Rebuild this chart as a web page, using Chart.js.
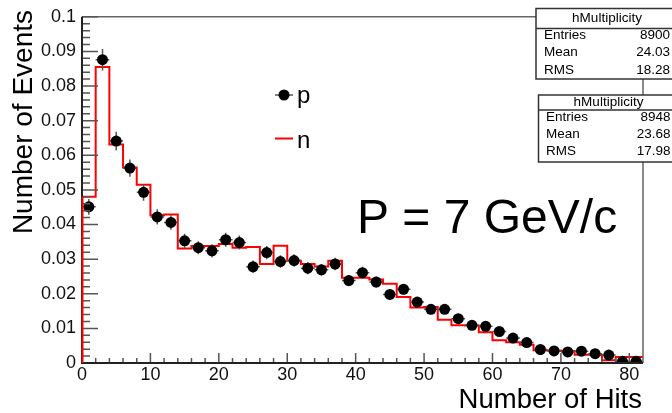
<!DOCTYPE html>
<html><head><meta charset="utf-8">
<script src="https://cdn.jsdelivr.net/npm/chart.js@4/dist/chart.umd.min.js"></script>
<style>html,body{margin:0;padding:0;background:#fff;overflow:hidden}canvas{display:block}</style>
</head><body>
<canvas id="c" width="672" height="413"></canvas>
<script>
// ---- data ----
const binCenters = [1,3,5,7,9,11,13,15,17,19,21,23,25,27,29,31,33,35,37,39,41,43,45,47,49,51,53,55,57,59,61,63,65,67,69,71,73,75,77,79,81];
const pValues = [0.0451,0.0876,0.0641,0.0563,0.0493,0.0422,0.0406,0.0353,0.0333,0.0324,
                 0.0356,0.0348,0.0278,0.0319,0.0293,0.0296,0.0274,0.0269,0.0286,0.0238,
                 0.0261,0.0234,0.0198,0.0213,0.0176,0.0155,0.0155,0.0128,0.0109,0.0106,
                 0.0091,0.0072,0.0059,0.0039,0.0035,0.0032,0.0034,0.0027,0.0023,0.0005,0.0005];
const pErrors = [0.0023,0.0031,0.0027,0.0025,0.0024,0.0022,0.0021,0.0020,0.0019,0.0019,
                 0.0020,0.0020,0.0018,0.0019,0.0018,0.0018,0.0018,0.0017,0.0018,0.0016,
                 0.0017,0.0016,0.0015,0.0015,0.0014,0.0013,0.0013,0.0012,0.0011,0.0011,
                 0.0010,0.0009,0.0008,0.0007,0.0006,0.0006,0.0006,0.0006,0.0005,0.0002,0.0002];
const nValues = [0.0480,0.0855,0.0631,0.0565,0.0515,0.0427,0.0429,0.0331,0.0338,0.0338,
                 0.0344,0.0333,0.0335,0.0286,0.0339,0.0295,0.0286,0.0279,0.0295,0.0246,
                 0.0246,0.0241,0.0229,0.0191,0.0160,0.0162,0.0125,0.0109,0.0108,0.0089,
                 0.0066,0.0060,0.0053,0.0037,0.0036,0.0035,0.0024,0.0024,0.0008,0.0017,0.0017];
const binHalfWidth = 1;
const statLabels = ['Entries','Mean','RMS'];
const statsP = ['8900','24.03','18.28'];
const statsN = ['8948','23.68','17.98'];
const statTitle = 'hMultiplicity';
const legendLabels = ['p','n'];
const xTitle = 'Number of Hits';
const yTitle = 'Number of Events';
const annotation = 'P = 7 GeV/c';

const FONT = '"Liberation Sans", Arial, Helvetica, sans-serif';

const pointData = binCenters.map((c,i)=>({x:c, y:pValues[i]}));
const histData = [{x:binCenters[0]-binHalfWidth, y:0}];
binCenters.forEach((c,i)=>histData.push({x:c-binHalfWidth, y:nValues[i]}));
histData.push({x:binCenters[binCenters.length-1]+binHalfWidth, y:nValues[nValues.length-1]});

function fmtY(v){ return String(parseFloat(v.toFixed(3))); }

const decor = {
  id:'decor',
  beforeDatasetDraw(chart, args){
    if(args.index !== 0) return;
    const ctx = chart.ctx, xs = chart.scales.x, ys = chart.scales.y;
    ctx.save();
    ctx.strokeStyle = '#555'; ctx.lineWidth = 1.5;
    binCenters.forEach((c,i)=>{
      const x = xs.getPixelForValue(c), y = ys.getPixelForValue(pValues[i]);
      const y1 = ys.getPixelForValue(pValues[i]+pErrors[i]), y2 = ys.getPixelForValue(Math.max(0,pValues[i]-pErrors[i]));
      const xl = xs.getPixelForValue(c-binHalfWidth), xr = xs.getPixelForValue(c+binHalfWidth);
      ctx.beginPath();
      ctx.moveTo(x,y1); ctx.lineTo(x,y2);
      ctx.moveTo(xl,y); ctx.lineTo(xr,y);
      ctx.stroke();
    });
    ctx.restore();
  },
  afterDraw(chart){
    const ctx = chart.ctx, xs = chart.scales.x, ys = chart.scales.y, a = chart.chartArea;
    ctx.save();
    // frame
    ctx.strokeStyle = '#666'; ctx.lineWidth = 1.5;
    ctx.beginPath(); ctx.moveTo(a.left, a.top); ctx.lineTo(a.right, a.top); ctx.lineTo(a.right, a.bottom); ctx.stroke();
    // ticks
    ctx.strokeStyle = '#555'; ctx.lineWidth = 1.5;
    ctx.beginPath();
    for(let i=0;i<=50;i++){
      const v = i*0.002, y = ys.getPixelForValue(v);
      const L = (i%5===0)?16:8;
      ctx.moveTo(a.left, y); ctx.lineTo(a.left+L, y);
    }
    for(let i=0;i<=40;i++){
      const v = i*2, x = xs.getPixelForValue(v);
      const L = (i%5===0)?10:5;
      ctx.moveTo(x, a.bottom); ctx.lineTo(x, a.bottom-L);
    }
    ctx.stroke();
    // axes
    ctx.strokeStyle = '#222'; ctx.lineWidth = 2;
    ctx.beginPath(); ctx.moveTo(a.left, a.top); ctx.lineTo(a.left, a.bottom); ctx.lineTo(a.right, a.bottom); ctx.stroke();
    // histogram left edge on top of axis
    ctx.strokeStyle = '#ff0000'; ctx.lineWidth = 2;
    ctx.beginPath(); ctx.moveTo(a.left+0.5, ys.getPixelForValue(0)); ctx.lineTo(a.left+0.5, ys.getPixelForValue(nValues[0])); ctx.stroke();

    // legend
    ctx.strokeStyle = '#555'; ctx.lineWidth = 1.5;
    ctx.beginPath(); ctx.moveTo(275, 95); ctx.lineTo(293, 95); ctx.stroke();
    ctx.fillStyle = '#000';
    ctx.beginPath(); ctx.arc(284, 95, 5.5, 0, Math.PI*2); ctx.fill();
    ctx.strokeStyle = '#ff0000'; ctx.lineWidth = 2;
    ctx.beginPath(); ctx.moveTo(275, 138.5); ctx.lineTo(293, 138.5); ctx.stroke();
    ctx.font = '24px ' + FONT; ctx.textAlign = 'left'; ctx.textBaseline = 'alphabetic';
    ctx.fillText(legendLabels[0], 297, 103);
    ctx.fillText(legendLabels[1], 297, 148);

    // annotation
    ctx.font = '48px ' + FONT;
    ctx.fillText(annotation, 357, 233);

    // axis titles
    ctx.font = '27.5px ' + FONT; ctx.textAlign = 'right';
    ctx.fillText(xTitle, 642, 408);
    ctx.save();
    ctx.translate(32, 10); ctx.rotate(-Math.PI/2);
    ctx.font = '28px ' + FONT; ctx.textAlign = 'right';
    ctx.fillText(yTitle, 0, 0);
    ctx.restore();

    // stats boxes
    function statBox(x, y, w, h, th, titleY, rowYs, labX, valX, vals){
      ctx.fillStyle = '#fff'; ctx.fillRect(x, y, w, h);
      ctx.strokeStyle = '#333'; ctx.lineWidth = 1.5;
      ctx.strokeRect(x, y, w, h);
      ctx.beginPath(); ctx.moveTo(x, y+th); ctx.lineTo(x+w, y+th); ctx.stroke();
      ctx.fillStyle = '#000'; ctx.font = '13.5px ' + FONT; ctx.textBaseline = 'middle';
      ctx.textAlign = 'center'; ctx.fillText(statTitle, x + (valX - x)/2 + 4, titleY);
      statLabels.forEach((l,i)=>{
        ctx.textAlign = 'left'; ctx.fillText(l, labX, rowYs[i]);
        ctx.textAlign = 'right'; ctx.fillText(vals[i], valX, rowYs[i]);
      });
    }
    statBox(536, 8.5, 140, 70.5, 20, 18, [35, 52.5, 70], 544, 670, statsP);
    statBox(538.5, 95, 140, 67, 15, 102.5, [117, 134, 151], 546, 670.5, statsN);
    ctx.restore();
  }
};

new Chart(document.getElementById('c'), {
  type: 'scatter',
  data: {
    datasets: [
      { label: legendLabels[0], data: pointData, order: 0,
        pointRadius: 5.5, pointHoverRadius: 5.5, pointBackgroundColor: '#000', pointBorderColor: '#000', pointBorderWidth: 0, showLine: false },
      { type: 'line', label: legendLabels[1], data: histData, order: 1,
        stepped: 'before', borderColor: '#ff0000', borderWidth: 2, pointRadius: 0, fill: false, clip: 3 }
    ]
  },
  options: {
    responsive: false, animation: false, devicePixelRatio: 1,
    layout: { padding: { left: 0, right: 29, top: 13, bottom: 0 } },
    plugins: { legend: { display: false }, tooltip: { enabled: false } },
    scales: {
      x: { type: 'linear', min: 0, max: 82,
        grid: { display: false, drawTicks: false }, border: { display: false },
        ticks: { stepSize: 10, includeBounds: false, padding: 1, color: '#111', font: { family: FONT, size: 18 }, maxRotation: 0 },
        afterFit(s){ s.height = 50; } },
      y: { type: 'linear', min: 0, max: 0.1,
        grid: { display: false, drawTicks: false }, border: { display: false },
        ticks: { stepSize: 0.01, includeBounds: false, padding: 6, color: '#111', font: { family: FONT, size: 18 }, callback: v => fmtY(v) },
        afterFit(s){ s.width = 82; } }
    }
  },
  plugins: [decor]
});
</script>
</body></html>
